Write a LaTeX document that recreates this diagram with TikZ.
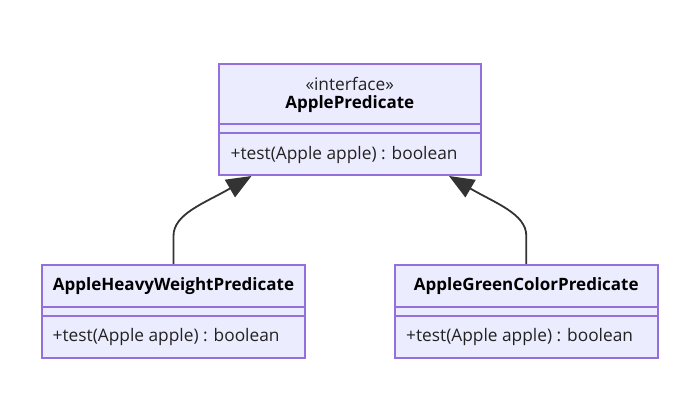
\documentclass[tikz,border=0pt]{standalone}
\usepackage{fontspec}
\setmainfont{Open Sans}
\usetikzlibrary{arrows.meta}
\definecolor{boxfill}{HTML}{ECECFF}
\definecolor{boxline}{HTML}{9370DB}
\definecolor{edgecol}{HTML}{333333}
\definecolor{txt}{HTML}{222222}
\begin{document}
\begin{tikzpicture}[x=1pt,y=-1pt,
  classbox/.style={draw=boxline, fill=boxfill, line width=2pt, rectangle, inner sep=0pt},
  divider/.style={draw=boxline, line width=2pt},
  lbl/.style={font=\fontsize{17.3}{20}\selectfont, text=txt, inner sep=0pt},
  ttl/.style={font=\bfseries\fontsize{17}{20}\selectfont, text=black, inner sep=0pt},
  inherit/.style={draw=edgecol, line width=1.8pt, -{Triangle[length=25pt,width=20pt]}}]
\useasboundingbox (0,0) rectangle (698,402);
% boxes
\node[classbox, minimum width=261.5pt, minimum height=111pt] (top) at (349.75,119.5) {};
\node[classbox, minimum width=263pt, minimum height=93pt] (left) at (173.5,311.3) {};
\node[classbox, minimum width=262.7pt, minimum height=93pt] (right) at (526.3,311.3) {};
% dividers
\draw[divider] (top.west |- 0,124) -- (top.east |- 0,124);
\draw[divider] (top.west |- 0,132.7) -- (top.east |- 0,132.7);
\draw[divider] (left.west |- 0,306.7) -- (left.east |- 0,306.7);
\draw[divider] (left.west |- 0,315.7) -- (left.east |- 0,315.7);
\draw[divider] (right.west |- 0,306.7) -- (right.east |- 0,306.7);
\draw[divider] (right.west |- 0,315.7) -- (right.east |- 0,315.7);
% texts
\node[lbl] (stereo) at (349.75,84) {«interface»};
\node[ttl] (topname) at (349.75,104.5) {ApplePredicate};
\node[lbl, anchor=west] (topm) at (230.5,155) {+test(Apple apple) : boolean};
\node[ttl] (leftname) at (173.5,286) {AppleHeavyWeightPredicate};
\node[lbl, anchor=west] (leftm) at (52.5,337) {+test(Apple apple) : boolean};
\node[ttl] (rightname) at (526.3,286) {AppleGreenColorPredicate};
\node[lbl, anchor=west] (rightm) at (406,337) {+test(Apple apple) : boolean};
% arrows
\coordinate (tipL) at ([xshift=33.5pt]top.south west);
\coordinate (tipR) at ([xshift=-32.5pt]top.south east);
\draw[inherit] (left.north) -- ++(0,-28) .. controls ++(0,-22) and (205,203) .. (tipL);
\draw[inherit] (right.north) -- ++(0,-28) .. controls ++(0,-22) and (495,203) .. (tipR);
\end{tikzpicture}
\end{document}
